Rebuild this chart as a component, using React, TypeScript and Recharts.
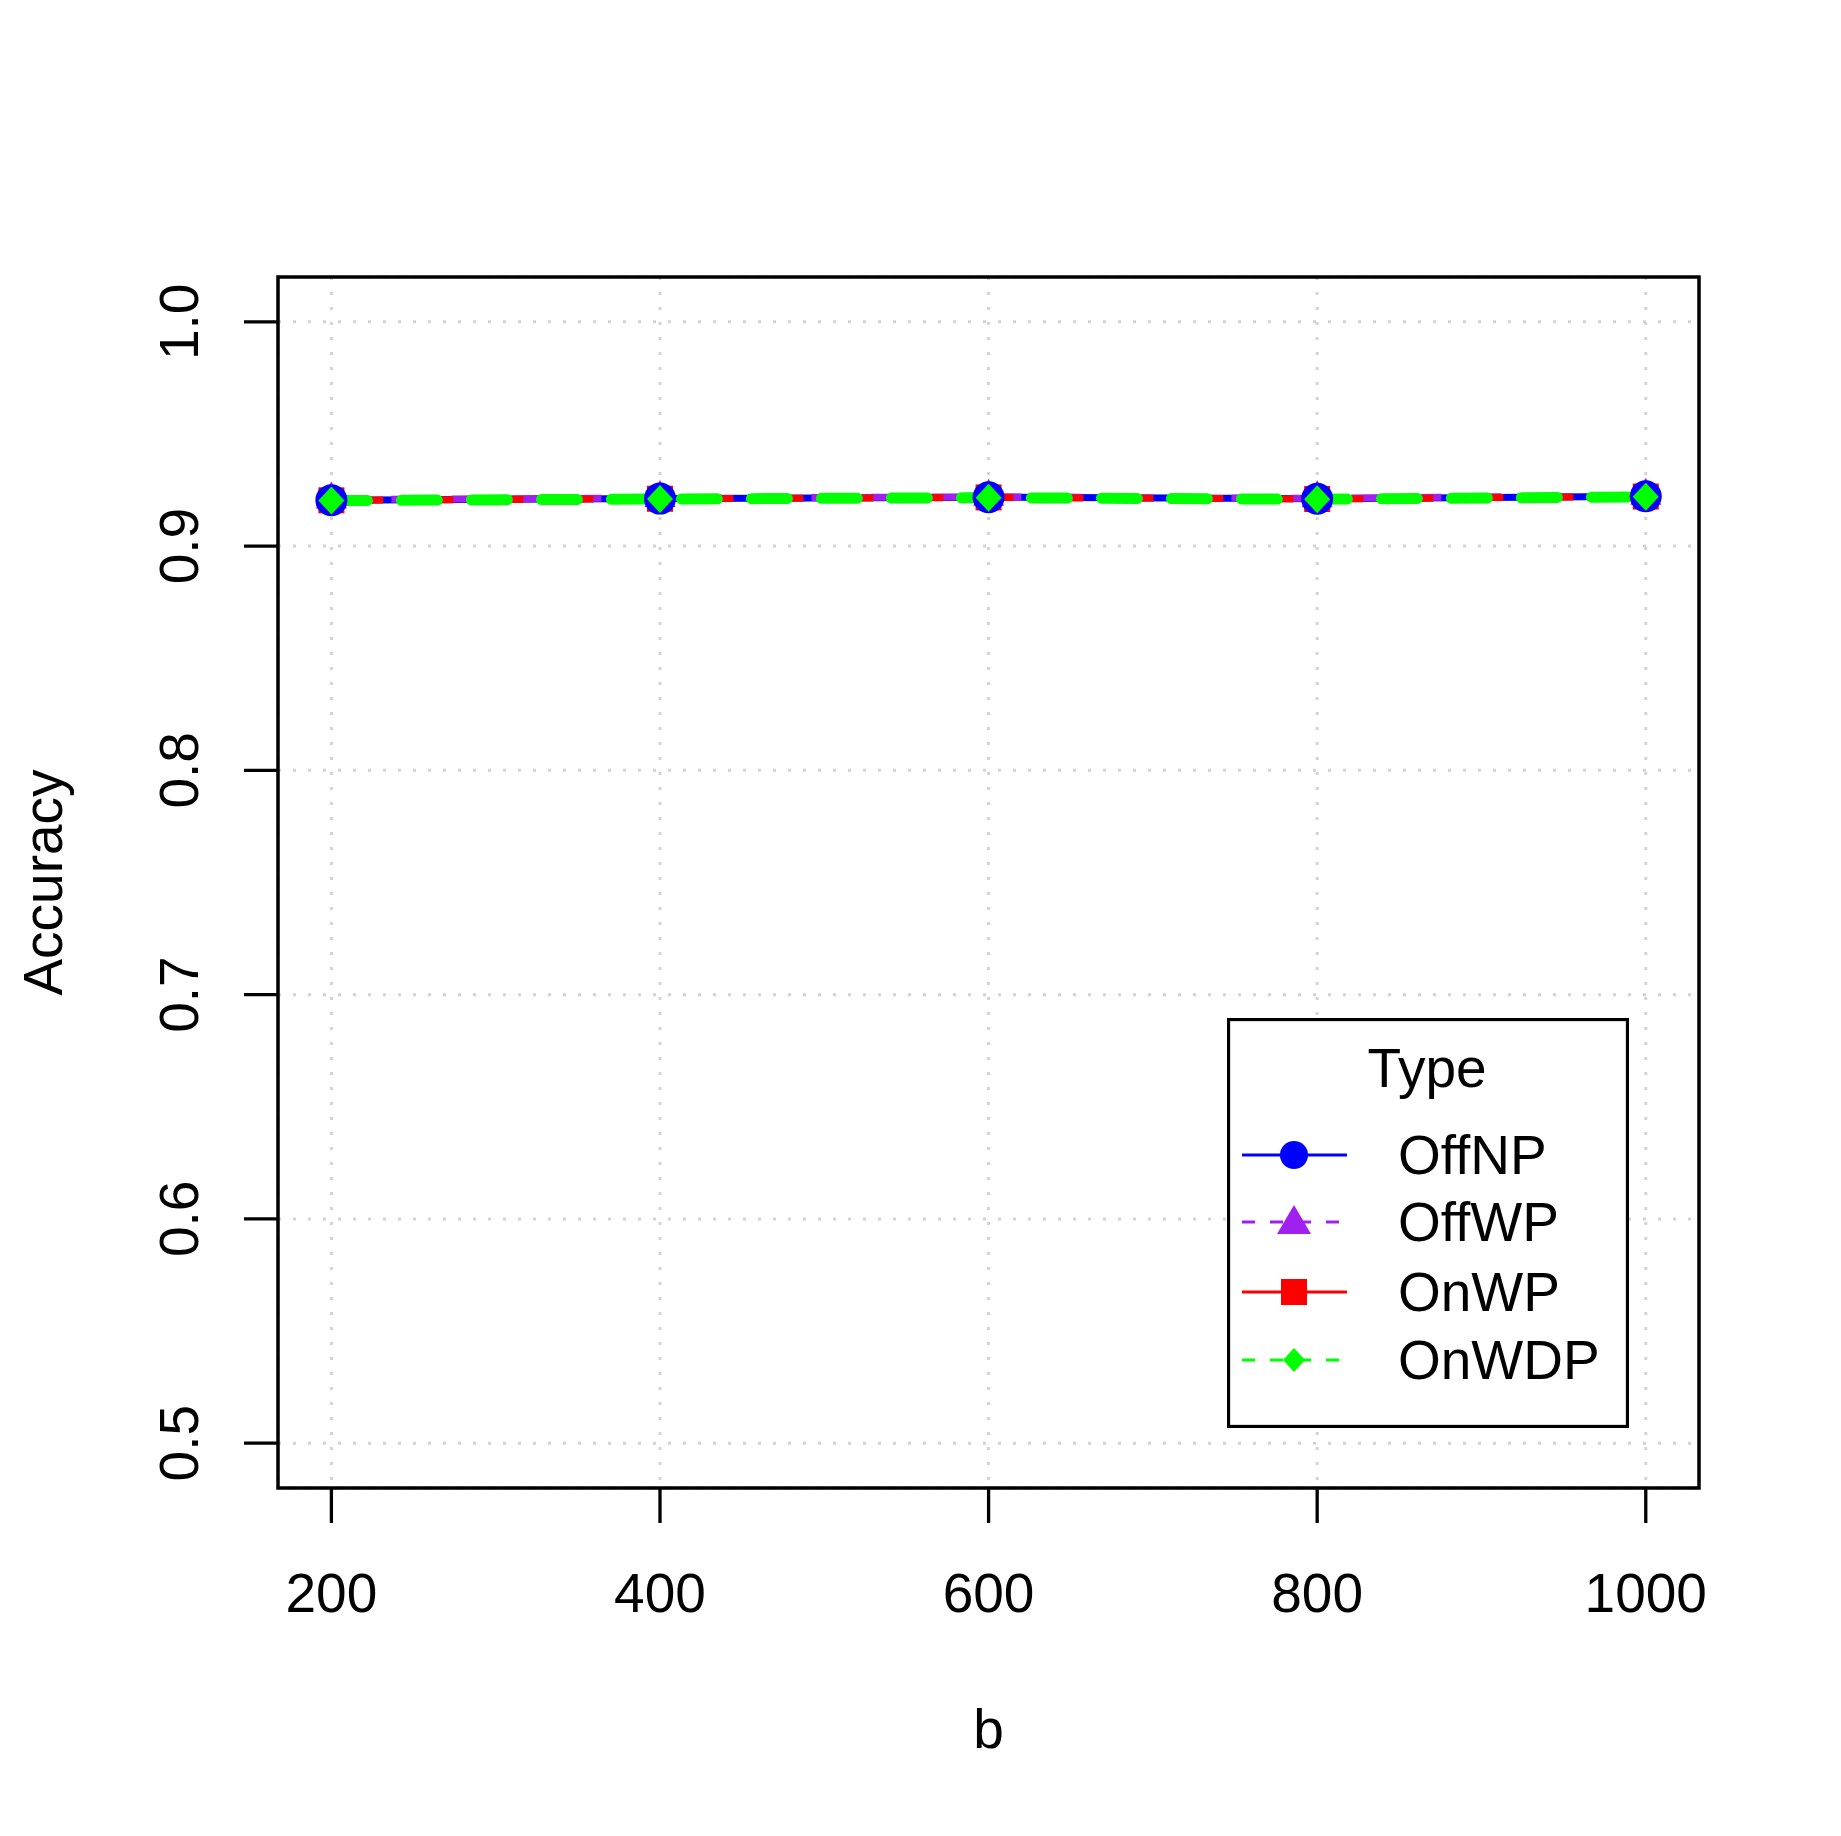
import React from 'react';
import {
  LineChart,
  Line,
  XAxis,
  YAxis,
  CartesianGrid,
  ReferenceArea,
  Legend,
} from 'recharts';

const B_VALUES = [200, 400, 600, 800, 1000];
const OFF_NP = [0.9205, 0.9212, 0.9218, 0.9211, 0.9222];
const OFF_WP = [0.9208, 0.9214, 0.922, 0.9213, 0.9225];
const ON_WP = [0.9204, 0.9211, 0.9217, 0.921, 0.9221];
const ON_WDP = [0.9203, 0.921, 0.9216, 0.9209, 0.922];

const X_TICKS = [200, 400, 600, 800, 1000];
const Y_TICKS = [0.5, 0.6, 0.7, 0.8, 0.9, 1.0];
const LEGEND_TITLE = 'Type';
const SERIES_NAMES = ['OffNP', 'OffWP', 'OnWP', 'OnWDP'];

const X_DOMAIN: [number, number] = [167.5, 1032.4];
const Y_DOMAIN: [number, number] = [0.48, 1.02];

const BLUE = '#0000FF';
const PURPLE = '#A020F0';
const RED = '#FF0000';
const GREEN = '#00FF00';
const FONT = '"Liberation Sans", Arial, Helvetica, sans-serif';
const FS = 55;

const data = B_VALUES.map((b, i) => ({
  b,
  offNP: OFF_NP[i],
  offWP: OFF_WP[i],
  onWP: ON_WP[i],
  onWDP: ON_WDP[i],
}));

// point shapes, roughly R's pch 16 / 17 / 15 / 18
const circleDot = (r: number, fill: string) => (p: any) => (
  <circle key={`c-${p.index}`} cx={p.cx} cy={p.cy} r={r} fill={fill} />
);
// equilateral triangle inscribed in a circle of radius r (tip up)
const triangleDot = (r: number, fill: string) => (p: any) => {
  const hw = r * 0.866;
  return (
    <polygon
      key={`t-${p.index}`}
      points={`${p.cx - hw},${p.cy + r / 2} ${p.cx + hw},${p.cy + r / 2} ${p.cx},${p.cy - r}`}
      fill={fill}
    />
  );
};
const squareDot = (s: number, fill: string) => (p: any) => (
  <rect key={`s-${p.index}`} x={p.cx - s / 2} y={p.cy - s / 2} width={s} height={s} fill={fill} />
);
const diamondDot = (w: number, h: number, fill: string) => (p: any) => (
  <polygon
    key={`d-${p.index}`}
    points={`${p.cx},${p.cy - h / 2} ${p.cx + w / 2},${p.cy} ${p.cx},${p.cy + h / 2} ${p.cx - w / 2},${p.cy}`}
    fill={fill}
  />
);

function XTick(props: any) {
  const { x, y, payload } = props;
  return (
    <text x={x} y={y + 89} textAnchor="middle" fontSize={FS} fontFamily={FONT} fill="#000">
      {payload.value}
    </text>
  );
}

function YTick(props: any) {
  const { x, y, payload } = props;
  const tx = x - 46;
  return (
    <text
      x={tx}
      y={y}
      transform={`rotate(-90 ${tx} ${y})`}
      textAnchor="middle"
      fontSize={FS}
      fontFamily={FONT}
      fill="#000"
    >
      {Number(payload.value).toFixed(1)}
    </text>
  );
}

function YTitle(props: any) {
  const vb = props.viewBox;
  const tx = vb.x + 62;
  const ty = vb.y + vb.height / 2;
  return (
    <text x={tx} y={ty} transform={`rotate(-90 ${tx} ${ty})`} textAnchor="middle" fontSize={FS} fontFamily={FONT} fill="#000">
      Accuracy
    </text>
  );
}

function XTitle(props: any) {
  const vb = props.viewBox;
  return (
    <text x={vb.x + vb.width / 2} y={vb.y + 260} textAnchor="middle" fontSize={FS} fontFamily={FONT} fill="#000">
      b
    </text>
  );
}

function LegendBox() {
  const rows = [137, 204, 274, 342];
  const mx = 67;
  return (
    <svg width={402} height={410} style={{ display: 'block' }}>
      <rect x={1.5} y={1.5} width={399} height={407} fill="#fff" stroke="#000" strokeWidth={3.3} />
      <text x={200} y={69} textAnchor="middle" fontSize={FS} fontFamily={FONT} fill="#000">
        {LEGEND_TITLE}
      </text>
      <line x1={15} x2={120} y1={rows[0]} y2={rows[0]} stroke={BLUE} strokeWidth={3} />
      <circle cx={mx} cy={rows[0]} r={14} fill={BLUE} />

      <line x1={15} x2={120} y1={rows[1]} y2={rows[1]} stroke={PURPLE} strokeWidth={3} strokeDasharray="13 15" />
      <polygon points={`${mx - 17},${rows[1] + 12} ${mx + 17},${rows[1] + 12} ${mx},${rows[1] - 17}`} fill={PURPLE} />

      <line x1={15} x2={120} y1={rows[2]} y2={rows[2]} stroke={RED} strokeWidth={3} />
      <rect x={mx - 13} y={rows[2] - 13} width={26} height={26} fill={RED} />

      <line x1={15} x2={120} y1={rows[3]} y2={rows[3]} stroke={GREEN} strokeWidth={3} strokeDasharray="13 15" />
      <polygon points={`${mx},${rows[3] - 12} ${mx + 11},${rows[3]} ${mx},${rows[3] + 12} ${mx - 11},${rows[3]}`} fill={GREEN} />

      {SERIES_NAMES.map((name, i) => (
        <text key={name} x={171} y={rows[i] + 19} fontSize={FS} fontFamily={FONT} fill="#000">
          {name}
        </text>
      ))}
    </svg>
  );
}

export default function App() {
  return (
    <div style={{ position: 'absolute', left: 0, top: 0, width: 1841, height: 1836, background: '#fff' }}>
      <LineChart width={1841} height={1836} data={data} margin={{ top: 277, right: 142, bottom: 0, left: 0 }}>
        <CartesianGrid stroke="#D3D3D3" strokeWidth={3} strokeDasharray="3 12" />
        <XAxis
          dataKey="b"
          type="number"
          domain={X_DOMAIN}
          allowDataOverflow
          ticks={X_TICKS}
          height={348}
          axisLine={false}
          tickLine={{ stroke: '#000', strokeWidth: 3.3 }}
          tickSize={35}
          tickMargin={0}
          tick={<XTick />}
          label={<XTitle />}
        />
        <YAxis
          type="number"
          domain={Y_DOMAIN}
          allowDataOverflow
          ticks={Y_TICKS}
          width={278}
          axisLine={false}
          tickLine={{ stroke: '#000', strokeWidth: 3.3 }}
          tickSize={34}
          tickMargin={0}
          tick={<YTick />}
          label={<YTitle />}
        />
        <ReferenceArea
          x1={X_DOMAIN[0]}
          x2={X_DOMAIN[1]}
          y1={Y_DOMAIN[0]}
          y2={Y_DOMAIN[1]}
          fill="none"
          fillOpacity={0}
          stroke="#000"
          strokeWidth={3.5}
          ifOverflow="visible"
        />

        {/* lines first, points afterwards so the symbols sit above them */}
        <Line dataKey="offNP" stroke={BLUE} strokeWidth={7} dot={false} isAnimationActive={false} legendType="none" />
        <Line dataKey="offWP" stroke={PURPLE} strokeWidth={7} strokeDasharray="30 30" dot={false} isAnimationActive={false} legendType="none" />
        <Line dataKey="onWP" stroke={RED} strokeWidth={7} strokeDasharray="34 36" strokeDashoffset={-18} dot={false} isAnimationActive={false} legendType="none" />
        <Line dataKey="onWDP" stroke={GREEN} strokeWidth={11} strokeLinecap="round" strokeDasharray="36 34" dot={false} isAnimationActive={false} legendType="none" />

        <Line dataKey="offWP" stroke="none" dot={triangleDot(18, PURPLE)} isAnimationActive={false} legendType="none" />
        <Line dataKey="onWP" stroke="none" dot={squareDot(26, RED)} isAnimationActive={false} legendType="none" />
        <Line dataKey="offNP" stroke="none" dot={circleDot(16, BLUE)} isAnimationActive={false} legendType="none" />
        <Line dataKey="onWDP" stroke="none" dot={diamondDot(26, 28, GREEN)} isAnimationActive={false} legendType="none" />

        <Legend
          layout="vertical"
          align="center"
          verticalAlign="middle"
          content={() => <LegendBox />}
          wrapperStyle={{ position: 'absolute', left: 1227, top: 1018, width: 402, height: 410, margin: 0 }}
        />
      </LineChart>
    </div>
  );
}
